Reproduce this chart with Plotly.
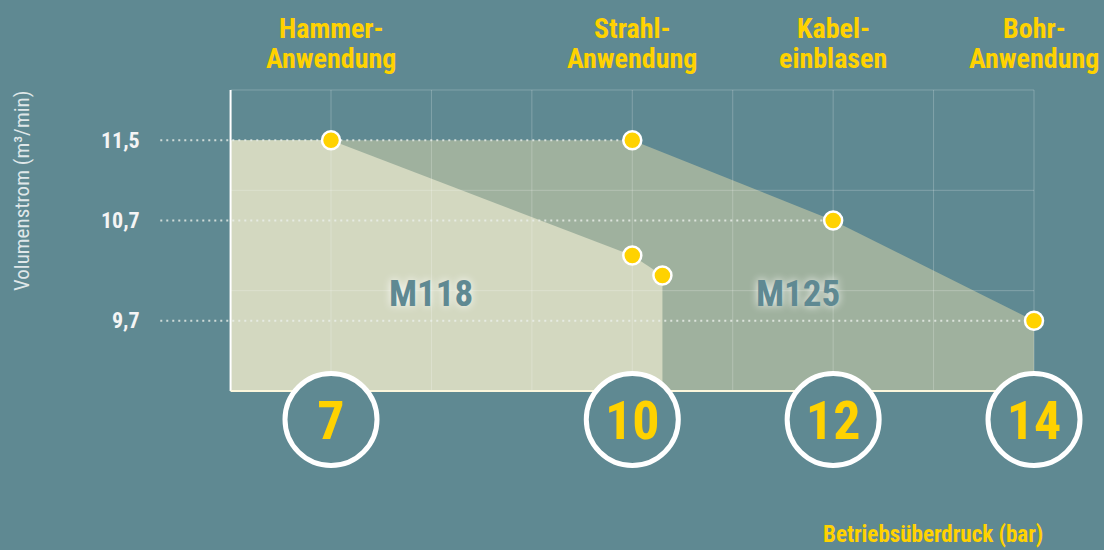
import plotly.graph_objects as go

# ---------------- data ----------------
pressure_ticks = [7, 10, 12, 14]
pressure_tick_text = ["7", "10", "12", "14"]
application_labels = [["Hammer-", "Anwendung"], ["Strahl-", "Anwendung"],
                      ["Kabel-", "einblasen"], ["Bohr-", "Anwendung"]]
volume_ticks = [11.5, 10.7, 9.7]
volume_tick_text = ["11,5", "10,7", "9,7"]

m118_pressure = [7, 10, 10.3]
m118_volume = [11.5, 10.35, 10.15]
m125_pressure = [10, 12, 14]
m125_volume = [11.5, 10.7, 9.7]

grid_x = [6, 7, 8, 9, 10, 11, 12, 13, 14]
grid_y = [9, 10, 11, 12]

# ---------------- style ----------------
BG = "#5f8992"
YELLOW = "#ffd200"
FILL_M118 = "#d3d8c0"
FILL_M125 = "#9fb19e"
NARROW = "Roboto Condensed, Liberation Sans Narrow, Roboto, sans-serif"

X_RANGE = [3.704, 14.697]
Y_RANGE = [7.415, 12.897]
X0, X1 = grid_x[0], grid_x[-1]
Y0, Y1 = grid_y[0], grid_y[-1]
DOT_START = 5.3
CIRCLE_Y = Y0 - 0.285
CIRCLE_TEXT_Y = CIRCLE_Y - 0.055

fig = go.Figure()


def polygon(px, vy):
    xs = [X0] + px + [px[-1], X0]
    ys = [vy[0]] + vy + [Y0, Y0]
    return xs, ys


for px, vy, col in [(m125_pressure, m125_volume, FILL_M125),
                    (m118_pressure, m118_volume, FILL_M118)]:
    xs, ys = polygon(px, vy)
    fig.add_trace(go.Scatter(x=xs, y=ys, fill="toself", fillcolor=col,
                             mode="lines", line=dict(width=0), hoverinfo="skip"))

# grid
gx, gy = [], []
for x in grid_x:
    gx += [x, x, None]
    gy += [Y0, Y1, None]
for y in grid_y:
    gx += [X0, X1, None]
    gy += [y, y, None]
fig.add_trace(go.Scatter(x=gx, y=gy, mode="lines",
                         line=dict(color="rgba(255,255,255,0.22)", width=1),
                         hoverinfo="skip"))

# axis lines
fig.add_trace(go.Scatter(x=[X0, X0], y=[Y0, Y1], mode="lines",
                         line=dict(color="#ffffff", width=2), hoverinfo="skip"))
fig.add_trace(go.Scatter(x=[X0, X1], y=[Y0, Y0], mode="lines",
                         line=dict(color="#fbf6dc", width=2), hoverinfo="skip"))

# dotted reference lines
for p, v in zip(m125_pressure, m125_volume):
    fig.add_trace(go.Scatter(x=[DOT_START, p], y=[v, v], mode="lines",
                             line=dict(color="rgba(235,240,235,0.8)", width=2, dash="2px,4px"),
                             hoverinfo="skip"))

# markers
for px, vy in [(m118_pressure, m118_volume), (m125_pressure, m125_volume)]:
    fig.add_trace(go.Scatter(x=px, y=vy, mode="markers",
                             marker=dict(size=18, color=YELLOW,
                                         line=dict(color="#ffffff", width=2.5)),
                             hoverinfo="skip"))

# pressure circles with tick labels
fig.add_trace(go.Scatter(x=pressure_ticks, y=[CIRCLE_Y] * len(pressure_ticks),
                         mode="markers",
                         marker=dict(size=92, color=BG, line=dict(color="#ffffff", width=5)),
                         hoverinfo="skip"))
fig.add_trace(go.Scatter(x=pressure_ticks, y=[CIRCLE_TEXT_Y] * len(pressure_ticks),
                         mode="text", text=pressure_tick_text,
                         textposition="middle center",
                         textfont=dict(family=NARROW, size=54, color=YELLOW, weight="bold"),
                         hoverinfo="skip"))

annotations = []
# application labels (top)
for p, (l1, l2) in zip(pressure_ticks, application_labels):
    for text, bottom in [(l1, 46.5), (l2, 77.5)]:
        annotations.append(dict(x=p, y=1 - bottom / 550, xref="x", yref="paper", text=text,
                                showarrow=False, xanchor="center", yanchor="bottom",
                                font=dict(family=NARROW, size=28, color=YELLOW, weight="bold")))

# volume tick labels
for v, t in zip(volume_ticks, volume_tick_text):
    annotations.append(dict(x=142 / 1104, y=v, xref="paper", yref="y", text=t,
                            showarrow=False, xanchor="right", yanchor="middle",
                            font=dict(family=NARROW, size=22, color="#f4f4f4", weight="bold")))

# axis titles
annotations.append(dict(x=22 / 1104, y=1 - 191 / 550, xref="paper", yref="paper",
                        text="Volumenstrom (m³/min)", textangle=-90, showarrow=False,
                        xanchor="center", yanchor="middle",
                        font=dict(family=NARROW, size=21, color="#dfe7e9")))
annotations.append(dict(x=1045 / 1104, y=0, xref="paper", yref="paper",
                        text="Betriebsüberdruck (bar)", showarrow=False,
                        xanchor="right", yanchor="bottom",
                        font=dict(family=NARROW, size=23, color=YELLOW, weight="bold")))

# model labels
for x, t in [(8.0, "M118"), (11.65, "M125")]:
    annotations.append(dict(x=x, y=9.97, xref="x", yref="y", text=t, showarrow=False,
                            xanchor="center", yanchor="middle",
                            font=dict(family=NARROW, size=37, color=BG, weight="bold",
                                      shadow="0px 0px 8px rgba(255,255,255,0.95)")))

fig.update_layout(
    width=1104, height=550,
    margin=dict(l=0, r=0, t=0, b=0),
    paper_bgcolor=BG, plot_bgcolor=BG,
    showlegend=False,
    xaxis=dict(range=X_RANGE, visible=False, fixedrange=True),
    yaxis=dict(range=Y_RANGE, visible=False, fixedrange=True),
    annotations=annotations,
    hovermode=False,
)

fig.write_html("out.html", config={"displayModeBar": False},
               post_script="document.body.style.margin='0';document.body.style.background='%s';" % BG)
